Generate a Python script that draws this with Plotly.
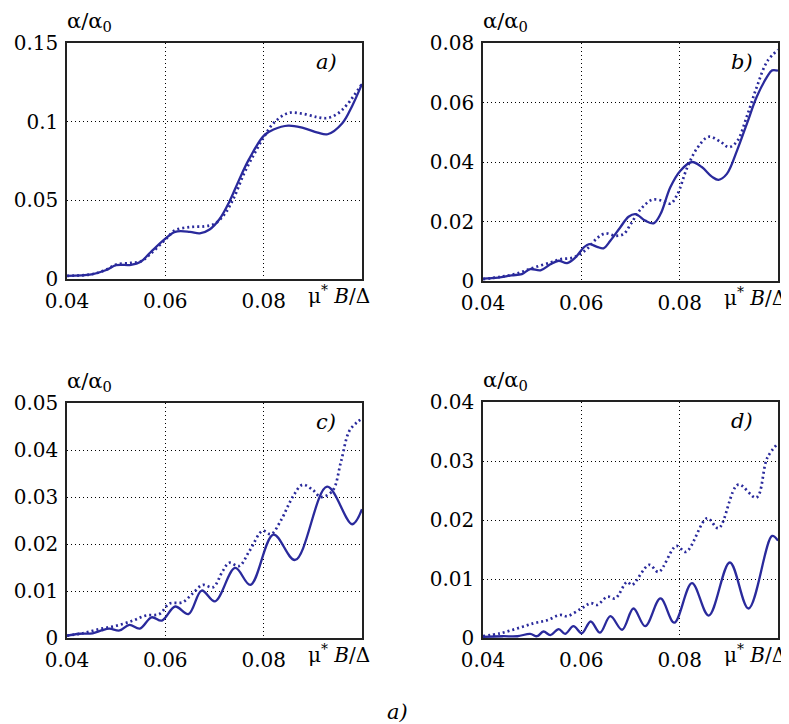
import plotly.graph_objects as go

# ---------------- data ----------------
xa_solid = [0.040, 0.045, 0.048, 0.050, 0.053, 0.055, 0.057, 0.060, 0.062, 0.065, 0.067, 0.069, 0.071,
            0.073, 0.075, 0.077, 0.080, 0.082, 0.085, 0.088, 0.091, 0.093, 0.096, 0.098, 0.100]
ya_solid = [0.002, 0.003, 0.0057, 0.0088, 0.009, 0.011, 0.017, 0.0256, 0.030, 0.030, 0.029, 0.0315, 0.038,
            0.049, 0.063, 0.076, 0.091, 0.095, 0.0975, 0.096, 0.093, 0.092, 0.099, 0.110, 0.124]
xa_dot = [0.040, 0.045, 0.048, 0.050, 0.053, 0.055, 0.057, 0.060, 0.062, 0.065, 0.068, 0.070, 0.072,
          0.074, 0.076, 0.078, 0.080, 0.082, 0.085, 0.088, 0.091, 0.093, 0.095, 0.097, 0.100]
ya_dot = [0.002, 0.003, 0.006, 0.0092, 0.0102, 0.0112, 0.016, 0.025, 0.031, 0.033, 0.0335, 0.035, 0.041,
          0.052, 0.067, 0.079, 0.090, 0.099, 0.1055, 0.105, 0.1028, 0.1023, 0.105, 0.111, 0.124]

xb_solid = [0.040, 0.0431, 0.0458, 0.0479, 0.0496, 0.0517, 0.0537, 0.0554, 0.0571, 0.0588, 0.0605, 0.0616,
            0.0632, 0.0645, 0.0659, 0.0679, 0.0696, 0.071, 0.073, 0.0747, 0.0761, 0.0781, 0.0801, 0.0825,
            0.0845, 0.0866, 0.0879, 0.0896, 0.0917, 0.0937, 0.0957, 0.0978, 0.0988, 0.100]
yb_solid = [0.0008, 0.0011, 0.0019, 0.0023, 0.004, 0.0036, 0.0056, 0.0068, 0.006, 0.0079, 0.0113, 0.0124,
            0.0115, 0.011, 0.0135, 0.018, 0.0216, 0.0225, 0.0203, 0.0194, 0.0225, 0.0315, 0.037, 0.040,
            0.0383, 0.035, 0.034, 0.036, 0.044, 0.053, 0.062, 0.0687, 0.0708, 0.0707]
xb_dot = [0.040, 0.0435, 0.0469, 0.0503, 0.0537, 0.0557, 0.0584, 0.0611, 0.0632, 0.0649, 0.0669, 0.0686,
          0.070, 0.072, 0.0744, 0.0764, 0.0781, 0.0795, 0.0815, 0.0835, 0.0859, 0.0883, 0.090, 0.0917,
          0.0937, 0.0957, 0.0978, 0.100]
yb_dot = [0.0006, 0.0014, 0.0025, 0.0045, 0.0062, 0.0073, 0.0079, 0.0107, 0.0144, 0.016, 0.0152, 0.0158,
          0.019, 0.024, 0.0273, 0.027, 0.026, 0.029, 0.038, 0.0445, 0.0485, 0.0468, 0.045, 0.047,
          0.0555, 0.0653, 0.0738, 0.0777]

xc_solid = [0.040, 0.0425, 0.0452, 0.047, 0.0486, 0.0507, 0.0527, 0.0548, 0.0572, 0.0593, 0.062, 0.0647,
            0.0674, 0.0701, 0.0742, 0.0773, 0.082, 0.0864, 0.0929, 0.098, 0.100]
yc_solid = [0.0005, 0.0009, 0.001, 0.0016, 0.002, 0.0016, 0.0028, 0.002, 0.0044, 0.0037, 0.0067, 0.0051,
            0.0101, 0.0078, 0.0149, 0.0113, 0.022, 0.0166, 0.0322, 0.0242, 0.0274]
xc_dot = [0.040, 0.0432, 0.0466, 0.050, 0.0534, 0.0561, 0.0588, 0.0608, 0.0635, 0.0655, 0.0676, 0.0697,
          0.0717, 0.073, 0.075, 0.0771, 0.0798, 0.0815, 0.0835, 0.0859, 0.0879, 0.090, 0.0916, 0.094,
          0.0957, 0.0974, 0.0991, 0.100]
yc_dot = [0.0005, 0.001, 0.0019, 0.0026, 0.0037, 0.0048, 0.0051, 0.0073, 0.0076, 0.0094, 0.0113, 0.0108,
          0.0143, 0.016, 0.0153, 0.0185, 0.0228, 0.0221, 0.025, 0.030, 0.0326, 0.0315, 0.030, 0.0313,
          0.0374, 0.044, 0.046, 0.0466]

xd_solid = [0.040, 0.044, 0.047, 0.0496, 0.051, 0.0523, 0.0537, 0.0554, 0.0567, 0.0584, 0.0601, 0.0619,
            0.0638, 0.0659, 0.0683, 0.0706, 0.073, 0.0761, 0.0789, 0.0825, 0.0859, 0.0902, 0.094, 0.0988, 0.100]
yd_solid = [0.0002, 0.0003, 0.0003, 0.0007, 0.0003, 0.0011, 0.0005, 0.0015, 0.0007, 0.002, 0.0008, 0.0028,
            0.0009, 0.0037, 0.0014, 0.005, 0.002, 0.0067, 0.0026, 0.0093, 0.0038, 0.0128, 0.005, 0.0173, 0.0165]
xd_dot = [0.040, 0.0435, 0.0469, 0.0503, 0.053, 0.0557, 0.0571, 0.060, 0.0619, 0.0632, 0.0653, 0.0669,
          0.0693, 0.0703, 0.0738, 0.0757, 0.0793, 0.0813, 0.0856, 0.0879, 0.0919, 0.0956, 0.0978, 0.100]
yd_dot = [0.0003, 0.0008, 0.0016, 0.0025, 0.003, 0.0039, 0.0037, 0.005, 0.0059, 0.0056, 0.007, 0.0067,
          0.0095, 0.009, 0.0124, 0.0112, 0.0156, 0.0146, 0.0203, 0.0186, 0.026, 0.0238, 0.0305, 0.033]

x_ticks = [0.04, 0.06, 0.08]
x_ticktext = ["0.04", "0.06", "0.08"]
ya_ticks = [0, 0.05, 0.1, 0.15]
ya_text = ["0", "0.05", "0.1", "0.15"]
yb_ticks = [0, 0.02, 0.04, 0.06, 0.08]
yb_text = ["0", "0.02", "0.04", "0.06", "0.08"]
yc_ticks = [0, 0.01, 0.02, 0.03, 0.04, 0.05]
yc_text = ["0", "0.01", "0.02", "0.03", "0.04", "0.05"]
yd_ticks = [0, 0.01, 0.02, 0.03, 0.04]
yd_text = ["0", "0.01", "0.02", "0.03", "0.04"]
panel_labels = ["a)", "b)", "c)", "d)"]

# ---------------- styling ----------------
W, H = 789, 724
OFF = 8  # page body margin
LINE = "#2a2a9c"
FONT = "DejaVu Serif, Liberation Serif, serif"
FS = 20

boxes = {  # left, right, top, bottom in screen px
    1: (67, 362, 43, 279),
    2: (483, 778, 43, 281),
    3: (67, 362, 403, 638),
    4: (483, 778, 402, 638),
}


def px(v):
    return (v - OFF) / W


def py(v):
    return 1 - (v - OFF) / H


fig = go.Figure()
series = [
    (xa_solid, ya_solid, xa_dot, ya_dot),
    (xb_solid, yb_solid, xb_dot, yb_dot),
    (xc_solid, yc_solid, xc_dot, yc_dot),
    (xd_solid, yd_solid, xd_dot, yd_dot),
]
for i, (xs, ys, xd, yd) in enumerate(series, start=1):
    suf = "" if i == 1 else str(i)
    fig.add_trace(go.Scatter(x=xd, y=yd, mode="lines", xaxis="x" + suf, yaxis="y" + suf,
                             line=dict(color=LINE, width=2.7, dash="2px,3px", shape="spline", smoothing=1.0),
                             showlegend=False, hoverinfo="skip"))
    fig.add_trace(go.Scatter(x=xs, y=ys, mode="lines", xaxis="x" + suf, yaxis="y" + suf,
                             line=dict(color=LINE, width=2.3, shape="spline", smoothing=1.0),
                             showlegend=False, hoverinfo="skip"))

yinfo = {1: (0.15, ya_ticks, ya_text), 2: (0.08, yb_ticks, yb_text),
         3: (0.05, yc_ticks, yc_text), 4: (0.04, yd_ticks, yd_text)}

layout = dict(width=W, height=H, autosize=False, margin=dict(l=0, r=0, t=0, b=0, pad=0, autoexpand=False),
              paper_bgcolor="white", plot_bgcolor="white", showlegend=False,
              font=dict(family=FONT, size=FS, color="black"))
annotations = []
common = dict(showgrid=True, gridcolor="black", gridwidth=1, griddash="1px,3px",
              showline=True, linecolor="#222", linewidth=1.5, mirror=True, ticks="",
              zeroline=False, automargin=False, ticklabelstandoff=3,
              tickfont=dict(family=FONT, size=FS, color="black"))
for i in range(1, 5):
    l, r, t, b = boxes[i]
    suf = "" if i == 1 else str(i)
    ymax, yt, ytt = yinfo[i]
    layout["xaxis" + suf] = dict(common, domain=[px(l), px(r)], range=[0.04, 0.1],
                                 tickvals=x_ticks, ticktext=x_ticktext, anchor="y" + suf)
    layout["yaxis" + suf] = dict(common, domain=[py(b), py(t)], range=[0, ymax],
                                 tickvals=yt, ticktext=ytt, anchor="x" + suf)
    # y title
    annotations.append(dict(text="α/α<sub>0</sub>", x=px(l - 2), y=py(t - 6), xref="paper", yref="paper",
                            xanchor="left", yanchor="bottom", showarrow=False,
                            font=dict(family=FONT, size=21, color="black")))
    # x title
    annotations.append(dict(text="μ<sup>*</sup> <i>B</i>/Δ", x=px(r + 10), y=py(b + 1),
                            xref="paper", yref="paper", xanchor="right", yanchor="top", showarrow=False,
                            font=dict(family=FONT, size=FS, color="black")))
    # panel label
    annotations.append(dict(text="<i>" + panel_labels[i - 1] + "</i>", x=px(r - 36), y=py(t + 19),
                            xref="paper", yref="paper", xanchor="center", yanchor="middle", showarrow=False,
                            font=dict(family=FONT, size=21, color="black")))

annotations.append(dict(text="<i>a)</i>", x=px(397), y=py(712), xref="paper", yref="paper",
                        xanchor="center", yanchor="middle", showarrow=False,
                        font=dict(family=FONT, size=21, color="black")))
layout["annotations"] = annotations
fig.update_layout(**layout)
fig.write_html("out.html", config={"displayModeBar": False})
